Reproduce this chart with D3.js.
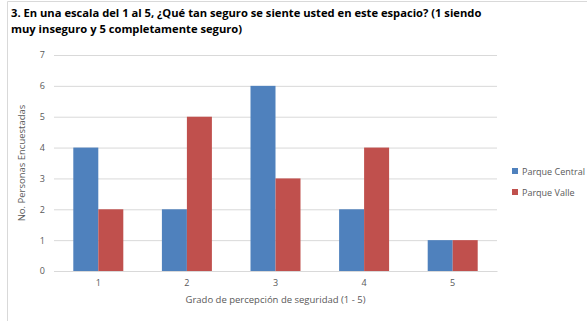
<!DOCTYPE html>
<html>
<head>
<meta charset="utf-8">
<script src="https://cdn.jsdelivr.net/npm/d3@7"></script>
<style>
  html, body { margin: 0; padding: 0; background: #fff; }
  svg { display: block; }
</style>
</head>
<body>
<svg id="chart" width="587" height="321"></svg>
<script>
// Survey answers: perceived safety rating (1–5) per park
const categories = ["1", "2", "3", "4", "5"];
const seriesNames = ["Parque Central", "Parque Valle"];
const parqueCentral = [4, 2, 6, 2, 1];
const parqueValle = [2, 5, 3, 4, 1];
const yTicks = [0, 1, 2, 3, 4, 5, 6, 7];
const titleLines = [
  "3. En una escala del 1 al 5, ¿Qué tan seguro se siente usted en este espacio? (1 siendo",
  "muy inseguro y 5 completamente seguro)"
];
const xTitle = "Grado de percepción de seguridad (1 - 5)";
const yTitle = "No. Personas Encuestadas";

const colors = ["#4F81BD", "#C0504D"];
const values = [parqueCentral, parqueValle];
const font = "'Open Sans', 'Liberation Sans', sans-serif";

const svg = d3.select("#chart");
const W = 587, H = 321;
const plot = { left: 54, right: 497, top: 55, bottom: 271 };

// Frame (left and top edges)
svg.append("path")
  .attr("d", `M7.5,${H} L7.5,1.5 L${W},1.5`)
  .attr("fill", "none").attr("stroke", "#D9D9D9").attr("stroke-width", 1);

// Title
svg.append("g").selectAll("text").data(titleLines).join("text")
  .attr("x", 11).attr("y", (d, i) => 17 + i * 16)
  .attr("font-family", font)
  .attr("font-weight", "bold").attr("font-size", 11.2)
  .attr("fill", "#000").text(d => d);

const x = d3.scaleBand().domain(categories).range([plot.left, plot.right]);
const y = d3.scaleLinear().domain([0, 7]).range([plot.bottom, plot.top]);
const barW = 25;
const xs = d3.scaleBand().domain(seriesNames).range([0, barW * 2]);

// Grid lines and y labels
const yAxis = d3.axisLeft(y).tickValues(yTicks).tickFormat(d3.format("d"))
  .tickSize(-(plot.right - plot.left)).tickPadding(9);
const gy = svg.append("g").attr("transform", `translate(${plot.left},0)`).call(yAxis);
gy.select(".domain").remove();
gy.selectAll(".tick line").attr("stroke", "#D9D9D9").attr("stroke-width", 1);
gy.selectAll(".tick text").attr("fill", "#595959").attr("font-size", 9)
  .attr("font-family", font);

// Bars
const groups = svg.append("g").selectAll("g").data(categories).join("g")
  .attr("transform", d => `translate(${x(d) + x.bandwidth() / 2 - barW},0)`);
groups.selectAll("rect")
  .data((c, i) => seriesNames.map((s, k) => ({ s, k, v: values[k][i] })))
  .join("rect")
  .attr("x", d => xs(d.s))
  .attr("width", xs.bandwidth())
  .attr("y", d => y(d.v))
  .attr("height", d => y(0) - y(d.v))
  .attr("fill", d => colors[d.k]);

// X axis
const xAxis = d3.axisBottom(x).tickSize(0).tickPadding(9);
const gx = svg.append("g").attr("transform", `translate(0,${plot.bottom})`).call(xAxis);
gx.select(".domain").attr("stroke", "#D9D9D9");
gx.selectAll(".tick text").attr("fill", "#595959").attr("font-size", 9)
  .attr("font-family", font);

// Axis titles
svg.append("text").attr("x", (plot.left + plot.right) / 2).attr("y", 303)
  .attr("text-anchor", "middle").attr("fill", "#595959").attr("font-size", 9.5)
  .attr("font-family", font).text(xTitle);
svg.append("text").attr("transform", `translate(25,${(plot.top + plot.bottom) / 2}) rotate(-90)`)
  .attr("text-anchor", "middle").attr("fill", "#595959").attr("font-size", 9.5)
  .attr("font-family", font).text(yTitle);

// Legend
const legend = svg.append("g").selectAll("g").data(seriesNames).join("g")
  .attr("transform", (d, i) => `translate(512,${171 + i * 21})`);
legend.append("rect").attr("x", 0).attr("y", -3).attr("width", 6).attr("height", 6)
  .attr("fill", (d, i) => colors[i]);
legend.append("text").attr("x", 10).attr("y", 3.5).attr("fill", "#595959").attr("font-size", 9)
  .attr("font-family", font).text(d => d);
</script>
</body>
</html>
